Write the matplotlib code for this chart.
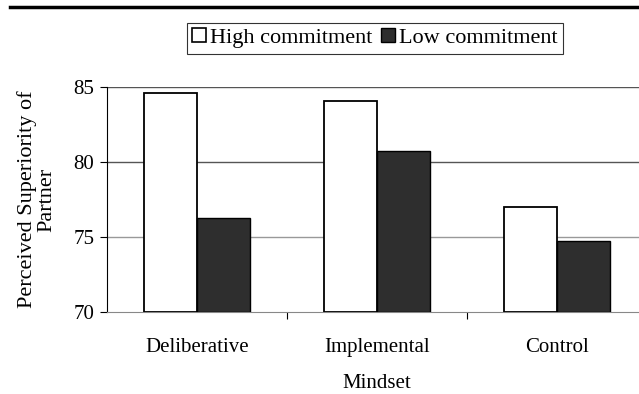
import numpy as np
import matplotlib
matplotlib.use("Agg")
import matplotlib.pyplot as plt
from matplotlib.patches import Patch

categories = ["Deliberative", "Implemental", "Control"]
high_commitment = [84.6, 84.1, 77.0]
low_commitment = [76.3, 80.7, 74.7]
y_ticks = [70, 75, 80, 85]

plt.rcParams['font.family'] = ['Liberation Serif', 'DejaVu Serif']

fig = plt.figure(figsize=(6.39, 3.94), dpi=100)
ax = fig.add_axes([107 / 639, 1 - 312 / 394, 540 / 639, 225 / 394])

x = np.arange(len(categories))
w = 0.295
ax.bar(x - w / 2, [h - 70 for h in high_commitment], w, bottom=70,
       color='white', edgecolor='black', linewidth=1.3, zorder=3)
ax.bar(x + w / 2, [l - 70 for l in low_commitment], w, bottom=70,
       color='#2e2e2e', edgecolor='black', linewidth=1.0, zorder=3)

ax.set_xlim(-0.5, 2.5)
ax.set_ylim(70, 85)
ax.set_yticks(y_ticks)
ax.set_yticklabels([str(t) for t in y_ticks], fontsize=15)
# scanned gridlines: upper ones darker, 75 lighter
for t in y_ticks[1:]:
    ax.axhline(t, color='#999999' if t == 75 else '#555555', linewidth=1.0, zorder=0)
ax.set_xticks(x)
ax.set_xticklabels(categories, fontsize=15)
ax.set_xticks([0.5, 1.5], minor=True)
ax.tick_params(axis='x', which='major', length=0, pad=19)
ax.tick_params(axis='x', which='minor', length=5, width=0.8)
ax.tick_params(axis='y', length=5, width=0.8, pad=4)
for s in ['top', 'right']:
    ax.spines[s].set_visible(False)
ax.spines['left'].set_linewidth(0.8)
ax.spines['bottom'].set_color('#888888')
ax.set_xlabel("Mindset", fontsize=15, labelpad=12)
ax.set_ylabel("Perceived Superiority of\nPartner", fontsize=16, labelpad=12,
              linespacing=1.05)

fig.lines.append(plt.Line2D([10 / 639, 1], [1 - 7 / 394, 1 - 7 / 394],
                            transform=fig.transFigure, color='black', linewidth=2.5))

handles = [Patch(facecolor='white', edgecolor='black', linewidth=1.2),
           Patch(facecolor='#2e2e2e', edgecolor='black', linewidth=1.0)]
leg = fig.legend(handles, ["High commitment", "Low commitment"], ncol=2,
                 loc='center', bbox_to_anchor=(375 / 639, 1 - 38 / 394),
                 fontsize=16, frameon=True, fancybox=False, edgecolor='black',
                 handlelength=0.6, handleheight=0.6, handletextpad=0.2,
                 columnspacing=0.4, borderpad=0.25, borderaxespad=0)
leg.get_frame().set_linewidth(0.8)

fig.savefig("out.png", dpi=100)
